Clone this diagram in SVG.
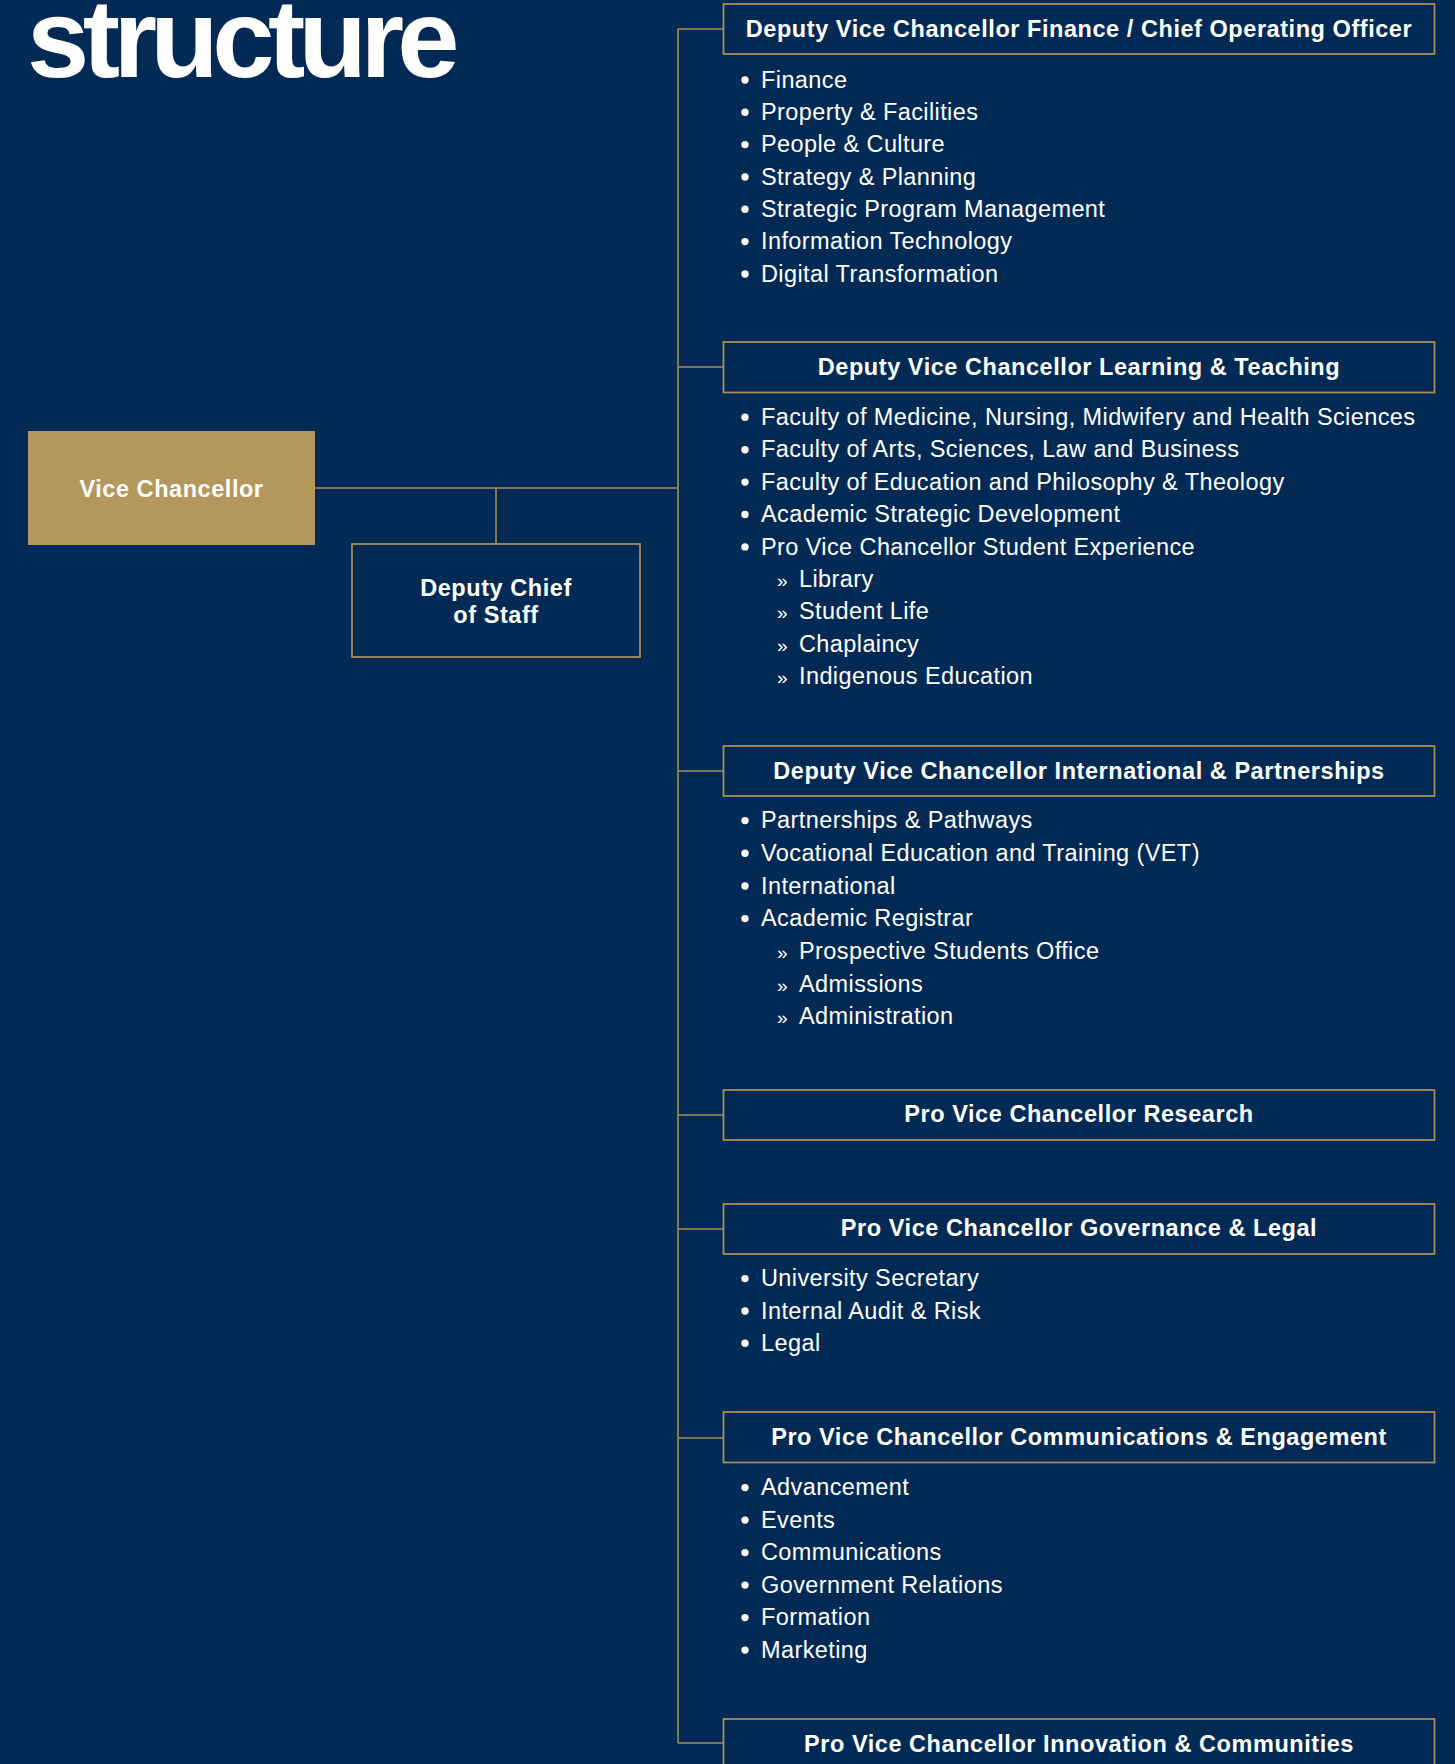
<svg xmlns="http://www.w3.org/2000/svg" width="1455" height="1764" viewBox="0 0 1455 1764">
<style>
.bg{fill:#022a55}
.box{fill:#022a55;stroke:#a58c5a;stroke-width:1.8}
.vc{fill:#b3975d}
.conn{fill:none;stroke:#a58c5a;stroke-width:1.6}
.h{font-family:"Liberation Sans",Arial,sans-serif;font-weight:bold;font-size:23.5px;letter-spacing:0.55px;fill:#ffffff;text-anchor:middle}
.b{font-family:"Liberation Sans",Arial,sans-serif;font-size:23.5px;letter-spacing:0.4px;fill:#ffffff}
.dot{fill:#ffffff}
.sub{font-family:"Liberation Sans",Arial,sans-serif;font-size:19px;fill:#ffffff}
.title{font-family:"Liberation Sans",Arial,sans-serif;font-weight:bold;font-size:112px;letter-spacing:-6.6px;fill:#ffffff}
</style>
<rect class="bg" x="0" y="0" width="1455" height="1764"/>
<text class="title" x="27" y="77">structure</text>

<g id="connectors">
<path class="conn" d="M315 488H678M496 488V544M678 29V1743M678 29H723.5M678 367H723.5M678 771H723.5M678 1115H723.5M678 1229H723.5M678 1438H723.5M678 1743H723.5"/>
</g>

<g id="vice-chancellor">
<rect class="vc" x="28" y="431" width="287" height="114"/>
<text class="h" x="171.5" y="497">Vice Chancellor</text>
</g>

<g id="deputy-chief-of-staff">
<rect class="box" x="352" y="544" width="288" height="113"/>
<text class="h" x="496" y="596">Deputy Chief</text>
<text class="h" x="496" y="623">of Staff</text>
</g>

<g id="dvc-finance">
<rect class="box" x="723.5" y="4" width="711" height="50"/>
<text class="h" x="1079" y="36.5">Deputy Vice Chancellor Finance / Chief Operating Officer</text>
<circle class="dot" cx="745" cy="80" r="3.7"/><text class="b" x="761" y="87.7">Finance</text>
<circle class="dot" cx="745" cy="112.3" r="3.7"/><text class="b" x="761" y="120">Property &amp; Facilities</text>
<circle class="dot" cx="745" cy="144.6" r="3.7"/><text class="b" x="761" y="152.3">People &amp; Culture</text>
<circle class="dot" cx="745" cy="177" r="3.7"/><text class="b" x="761" y="184.7">Strategy &amp; Planning</text>
<circle class="dot" cx="745" cy="209.3" r="3.7"/><text class="b" x="761" y="217">Strategic Program Management</text>
<circle class="dot" cx="745" cy="241.6" r="3.7"/><text class="b" x="761" y="249.3">Information Technology</text>
<circle class="dot" cx="745" cy="274" r="3.7"/><text class="b" x="761" y="281.7">Digital Transformation</text>
</g>

<g id="dvc-learning-teaching">
<rect class="box" x="723.5" y="342" width="711" height="50.5"/>
<text class="h" x="1079" y="374.5">Deputy Vice Chancellor Learning &amp; Teaching</text>
<circle class="dot" cx="745" cy="417.3" r="3.7"/><text class="b" x="761" y="425">Faculty of Medicine, Nursing, Midwifery and Health Sciences</text>
<circle class="dot" cx="745" cy="449.7" r="3.7"/><text class="b" x="761" y="457.4">Faculty of Arts, Sciences, Law and Business</text>
<circle class="dot" cx="745" cy="482.1" r="3.7"/><text class="b" x="761" y="489.8">Faculty of Education and Philosophy &amp; Theology</text>
<circle class="dot" cx="745" cy="514.5" r="3.7"/><text class="b" x="761" y="522.2">Academic Strategic Development</text>
<circle class="dot" cx="745" cy="546.9" r="3.7"/><text class="b" x="761" y="554.6">Pro Vice Chancellor Student Experience</text>
<text class="sub" x="777" y="587">»</text><text class="b" x="799" y="587">Library</text>
<text class="sub" x="777" y="619.4">»</text><text class="b" x="799" y="619.4">Student Life</text>
<text class="sub" x="777" y="651.8">»</text><text class="b" x="799" y="651.8">Chaplaincy</text>
<text class="sub" x="777" y="684.2">»</text><text class="b" x="799" y="684.2">Indigenous Education</text>
</g>

<g id="dvc-international-partnerships">
<rect class="box" x="723.5" y="746" width="711" height="50"/>
<text class="h" x="1079" y="778.5">Deputy Vice Chancellor International &amp; Partnerships</text>
<circle class="dot" cx="745" cy="820.6" r="3.7"/><text class="b" x="761" y="828.3">Partnerships &amp; Pathways</text>
<circle class="dot" cx="745" cy="853.3" r="3.7"/><text class="b" x="761" y="861">Vocational Education and Training (VET)</text>
<circle class="dot" cx="745" cy="886" r="3.7"/><text class="b" x="761" y="893.7">International</text>
<circle class="dot" cx="745" cy="918.6" r="3.7"/><text class="b" x="761" y="926.3">Academic Registrar</text>
<text class="sub" x="777" y="959">»</text><text class="b" x="799" y="959">Prospective Students Office</text>
<text class="sub" x="777" y="991.7">»</text><text class="b" x="799" y="991.7">Admissions</text>
<text class="sub" x="777" y="1024.3">»</text><text class="b" x="799" y="1024.3">Administration</text>
</g>

<g id="pvc-research">
<rect class="box" x="723.5" y="1090" width="711" height="50"/>
<text class="h" x="1079" y="1122">Pro Vice Chancellor Research</text>
</g>

<g id="pvc-governance-legal">
<rect class="box" x="723.5" y="1204" width="711" height="50"/>
<text class="h" x="1079" y="1236">Pro Vice Chancellor Governance &amp; Legal</text>
<circle class="dot" cx="745" cy="1278.6" r="3.7"/><text class="b" x="761" y="1286.3">University Secretary</text>
<circle class="dot" cx="745" cy="1311" r="3.7"/><text class="b" x="761" y="1318.7">Internal Audit &amp; Risk</text>
<circle class="dot" cx="745" cy="1343.3" r="3.7"/><text class="b" x="761" y="1351">Legal</text>
</g>

<g id="pvc-communications-engagement">
<rect class="box" x="723.5" y="1412" width="711" height="50.5"/>
<text class="h" x="1079" y="1445">Pro Vice Chancellor Communications &amp; Engagement</text>
<circle class="dot" cx="745" cy="1487.6" r="3.7"/><text class="b" x="761" y="1495.3">Advancement</text>
<circle class="dot" cx="745" cy="1520.1" r="3.7"/><text class="b" x="761" y="1527.8">Events</text>
<circle class="dot" cx="745" cy="1552.6" r="3.7"/><text class="b" x="761" y="1560.3">Communications</text>
<circle class="dot" cx="745" cy="1585.1" r="3.7"/><text class="b" x="761" y="1592.8">Government Relations</text>
<circle class="dot" cx="745" cy="1617.6" r="3.7"/><text class="b" x="761" y="1625.3">Formation</text>
<circle class="dot" cx="745" cy="1650.1" r="3.7"/><text class="b" x="761" y="1657.8">Marketing</text>
</g>

<g id="pvc-innovation-communities">
<rect class="box" x="723.5" y="1719" width="711" height="60"/>
<text class="h" x="1079" y="1752">Pro Vice Chancellor Innovation &amp; Communities</text>
</g>
</svg>
